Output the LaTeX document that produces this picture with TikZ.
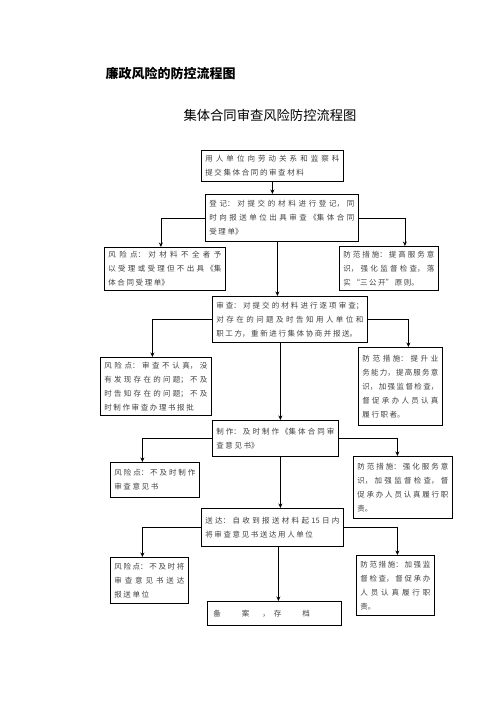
\documentclass[tikz,border=0pt]{standalone}
\usepackage{fontspec}
\setmainfont{Noto Sans CJK SC}
\XeTeXlinebreaklocale "zh"
\XeTeXlinebreakskip=1.6pt plus 1pt minus 1.6pt
\usetikzlibrary{arrows.meta,positioning}

\begin{document}
\begin{tikzpicture}[x=1pt,y=-1pt,font=\fontsize{7.5}{14}\selectfont,
 s/.style={draw,line width=0.8pt,anchor=north west,align=justify,inner xsep=4pt,inner ysep=1pt,text=black!75},
 a/.style={line width=0.8pt,-{Stealth[length=4.5pt,width=4pt]}}]
\useasboundingbox (0,0) rectangle (496,702);
\node[anchor=west,font=\bfseries\fontsize{13}{15}\selectfont](t1) at (102,74){廉政风险的防控流程图};
\node[font=\fontsize{13.3}{15}\selectfont](t2) at (270,115){集体合同审查风险防控流程图};
% main column
\node[s,text width=134pt,minimum height=31pt](b1) at (201,150){用人单位向劳动关系和监察科\linebreak 提交集体合同的审查材料};
\node[s,text width=145pt,minimum height=47pt](b2) at (205,194){登记：对提交的材料进行登记，同\linebreak 时向报送单位出具审查《集体合同\linebreak 受理单》};
\node[s,text width=147pt,minimum height=46pt](b3) at (212,296){审查：对提交的材料进行逐项审查；\linebreak 对存在的问题及时告知用人单位和\linebreak 职工方，重新进行集体协商并报送。};
\node[s,text width=118pt,minimum height=36pt](b4) at (212,420){制作：及时制作《集体合同审\linebreak 查意见书》};
\node[s,text width=134pt,minimum height=38pt](b5) at (201,508){送达：自收到报送材料起 15 日内\linebreak 将审查意见书送达用人单位};
\node[s,align=left,inner xsep=6pt,text width=122pt,minimum height=24pt](b6) at (207,601){备\hspace{21pt}案\hspace{13pt}，\hspace{4pt}存\hspace{21pt}档};
% risks
\node[s,text width=113pt,minimum height=43pt](r1) at (104,247){风险点：\ 对材料不全者予\linebreak 以受理或受理但不出具《集\linebreak 体合同受理单》};
\node[s,text width=103pt,minimum height=58pt](r2) at (100,357){风险点：审查不认真，没\linebreak 有发现存在的问题；不及\linebreak 时告知存在的问题；不及\linebreak 时制作审查办理书报批};
\node[s,text width=81pt,minimum height=35pt](r3) at (110,462){风险点：不及时制作\linebreak 审查意见书};
\node[s,text width=70pt,minimum height=46pt](r4) at (110,557){风险点：不及时将\linebreak 审查意见书送达\linebreak 报送单位};
% measures
\node[s,text width=91pt,minimum height=44pt](m1) at (339,246){防范措施：\ 提高服务意\linebreak 识，强化监督检查，落\linebreak 实“三公开”原则。};
\node[s,text width=76pt,minimum height=78pt](m2) at (358,347){防范措施：\ 提升业\linebreak 务能力，提高服务意\linebreak 识，加强监督检查，\linebreak 督促承办人员认真\linebreak 履行职者。};
\node[s,text width=91pt,minimum height=62pt](m3) at (353,456){防范措施：强化服务意\linebreak 识，加强监督检查，督\linebreak 促承办人员认真履行职\linebreak 责。};
\node[s,text width=70pt,minimum height=60pt](m4) at (356,555){防范措施：加强监\linebreak 督检查，督促承办\linebreak 人员认真履行职\linebreak 责。};
% down arrows
\draw[a](b1.south)--(b1.south |- b2.north);
\draw[a]([xshift=-4.5pt]b2.south) coordinate(k2)--(k2 |- b3.north);
\draw[a]([xshift=-9.5pt]b3.south) coordinate(k3)--(k3 |- b4.north);
\draw[a]([xshift=5pt]b4.south) coordinate(k4)--(k4 |- b5.north);
\draw[a]([xshift=6pt]b5.south) coordinate(k5)--(k5 |- b6.north);
% side arrows
\draw[a](b2.west)-|([xshift=-4pt]r1.north);
\draw[a](b2.east)-|([xshift=16pt]m1.north);
\draw[a](b3.west)-|([xshift=-3.5pt]r2.north);
\draw[a](b3.east)-|([xshift=8pt]m2.north);
\draw[a](b4.west)-|([xshift=-12.5pt]r3.north);
\draw[a](b4.east)-|([xshift=-5.5pt]m3.north);
\draw[a](b5.west)-|([xshift=-7pt]r4.north);
\draw[a](b5.east)-|([xshift=2pt]m4.north);
\end{tikzpicture}
\end{document}
